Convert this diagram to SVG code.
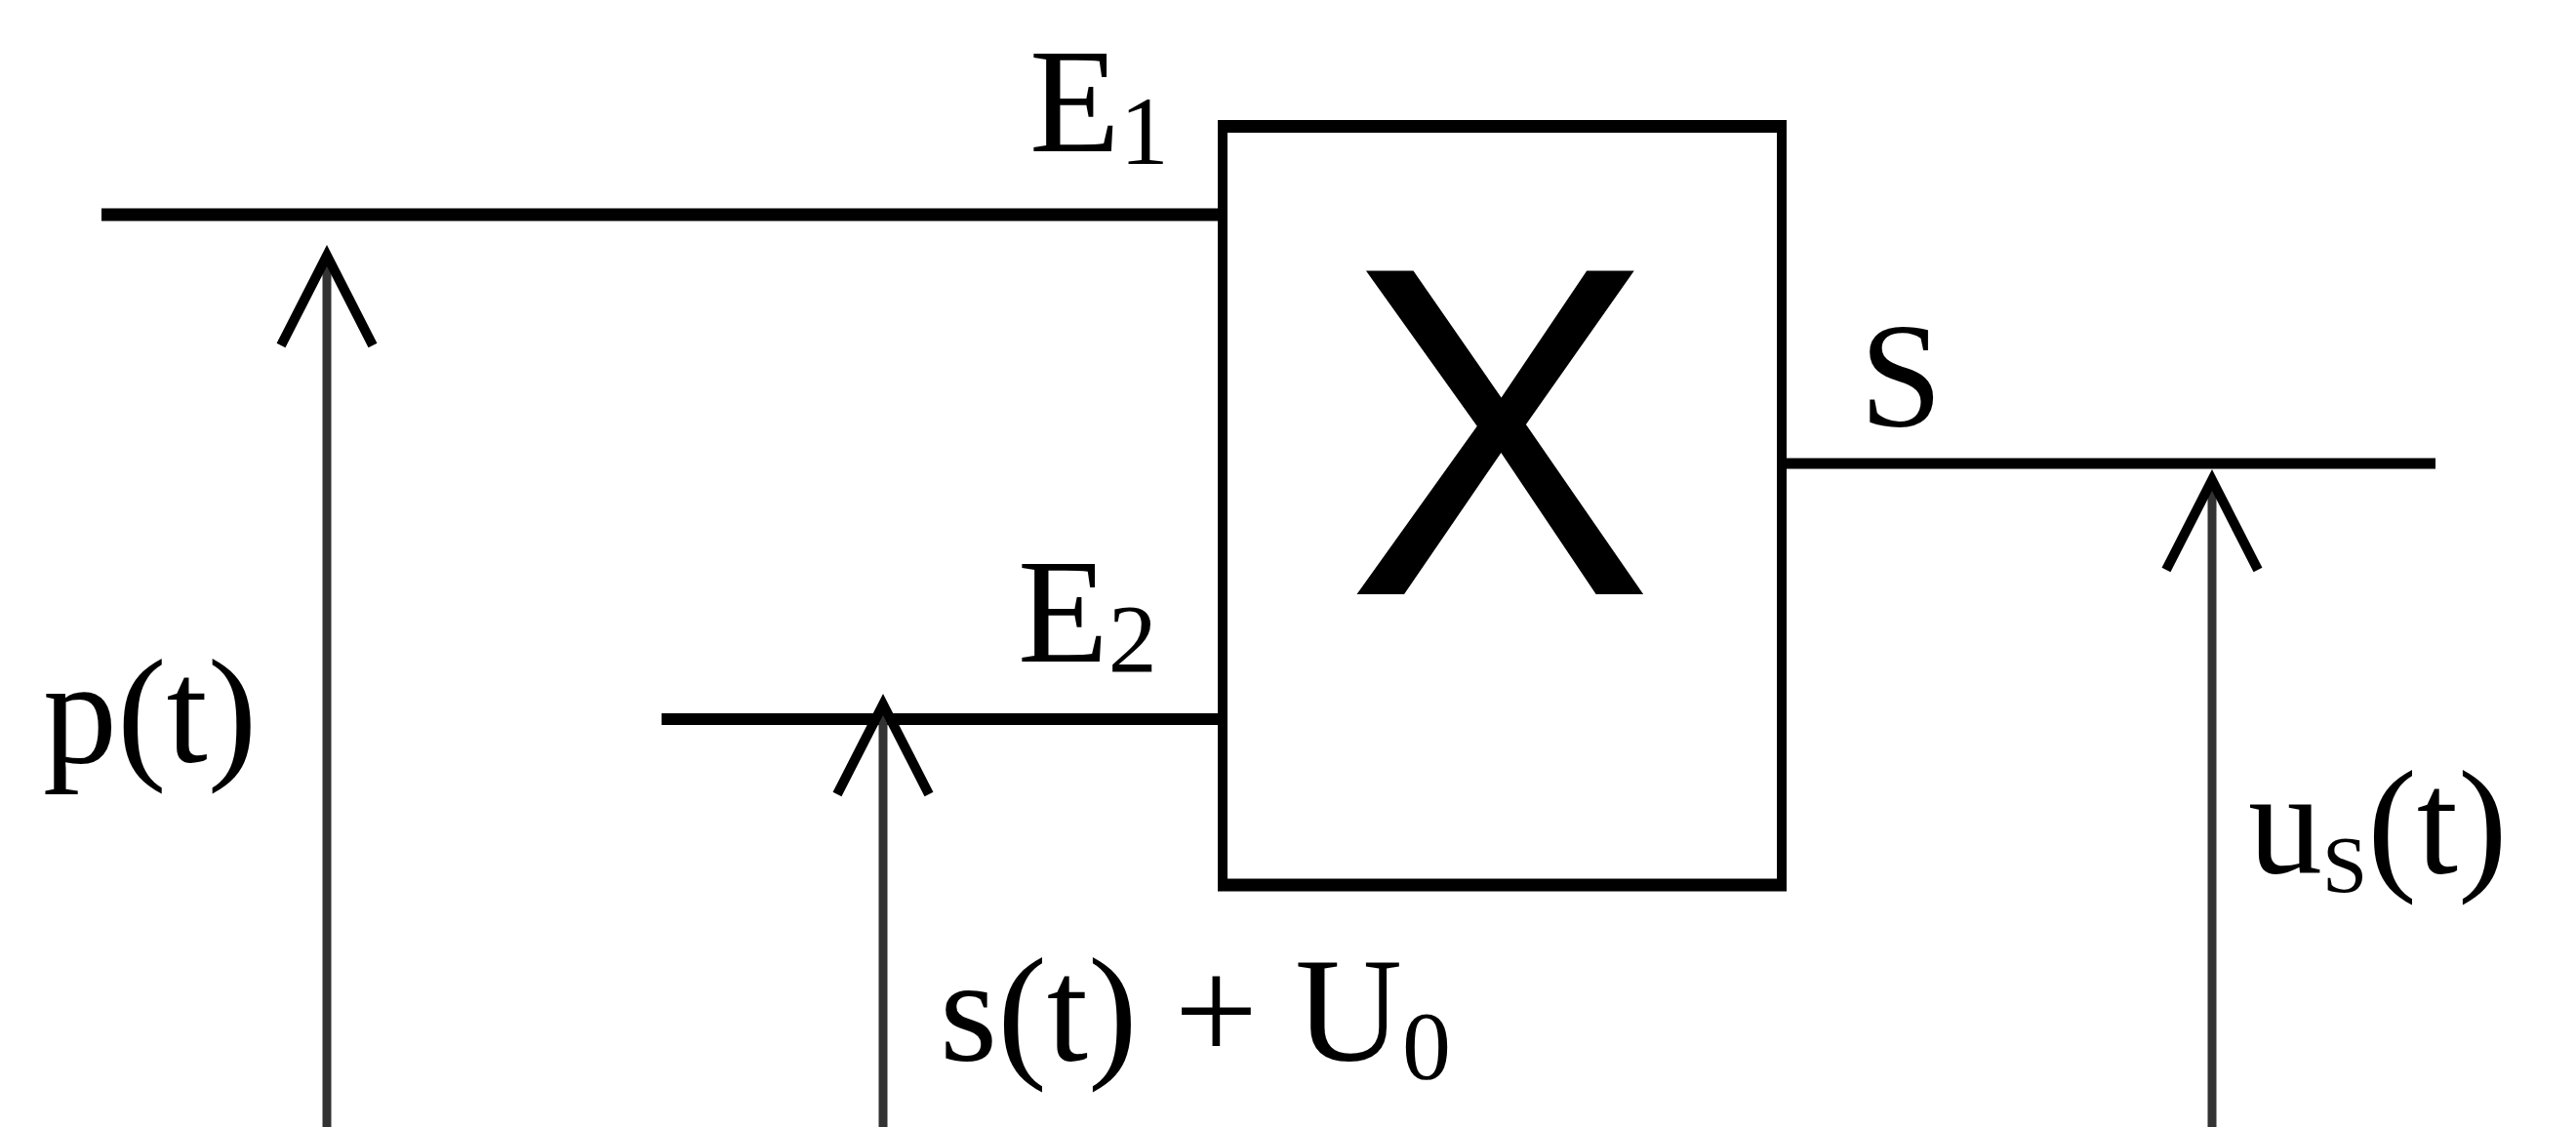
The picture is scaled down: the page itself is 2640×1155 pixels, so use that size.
<svg xmlns="http://www.w3.org/2000/svg" width="2640" height="1155" viewBox="0 0 2640 1155">
  <style>
    .wire { stroke: #000; fill: none; stroke-linecap: butt; }
    .shaft { stroke: #333; stroke-width: 9; fill: none; }
    .lbl { font-family: "Liberation Serif", "Times New Roman", serif; font-size: 152px; fill: #000; }
    .sub { font-size: 100px; }
    .big { font-family: "Liberation Sans", Arial, sans-serif; font-size: 482px; fill: #000; }
  </style>
  <defs>
    <marker id="openArrow" markerUnits="userSpaceOnUse" viewBox="-100 -55 110 110" refX="0" refY="0" markerWidth="110" markerHeight="110" orient="auto" overflow="visible">
      <polyline points="-92,-47 0,0 -92,47" fill="none" stroke="#000" stroke-width="10" stroke-linejoin="miter"/>
    </marker>
  </defs>
  <rect width="2640" height="1155" fill="#fff"/>

  <g id="connectors">
    <line class="wire" x1="104" y1="220" x2="1254" y2="220" stroke-width="13"/>
    <line class="wire" x1="678" y1="737" x2="1254" y2="737" stroke-width="12"/>
    <line class="wire" x1="1826" y1="475" x2="2496" y2="475" stroke-width="11"/>
    <line class="shaft" x1="335" y1="1155" x2="335" y2="262" marker-end="url(#openArrow)"/>
    <line class="shaft" x1="905" y1="1155" x2="905" y2="722" marker-end="url(#openArrow)"/>
    <line class="shaft" x1="2267" y1="1155" x2="2267" y2="492" marker-end="url(#openArrow)"/>
  </g>

  <g id="multiplier">
    <line class="wire" x1="1253" y1="123" x2="1253" y2="913" stroke-width="10"/>
    <line class="wire" x1="1826" y1="123" x2="1826" y2="913" stroke-width="10"/>
    <line class="wire" x1="1248" y1="129.5" x2="1831" y2="129.5" stroke-width="13"/>
    <line class="wire" x1="1248" y1="907" x2="1831" y2="907" stroke-width="13"/>
    <text class="big" x="1537" y="609" text-anchor="middle" transform="translate(1537 0) scale(0.977 1) translate(-1537 0)">X</text>
  </g>

  <g id="label-E1">
    <text class="lbl" x="1055" y="155">E<tspan class="sub" dy="13">1</tspan></text>
  </g>
  <g id="label-E2">
    <text class="lbl" x="1043" y="678">E<tspan class="sub" dy="10">2</tspan></text>
  </g>
  <g id="label-S">
    <text class="lbl" x="1906" y="437">S</text>
  </g>
  <g id="label-p">
    <text class="lbl" x="44" y="781">p(t)</text>
  </g>
  <g id="label-s">
    <text class="lbl" x="963" y="1087">s(t) + U<tspan class="sub" dy="18">0</tspan></text>
  </g>
  <g id="label-us">
    <text class="lbl" x="2304" y="895">u<tspan font-size="83" dy="19">S</tspan><tspan dy="-19">(t)</tspan></text>
  </g>
</svg>
